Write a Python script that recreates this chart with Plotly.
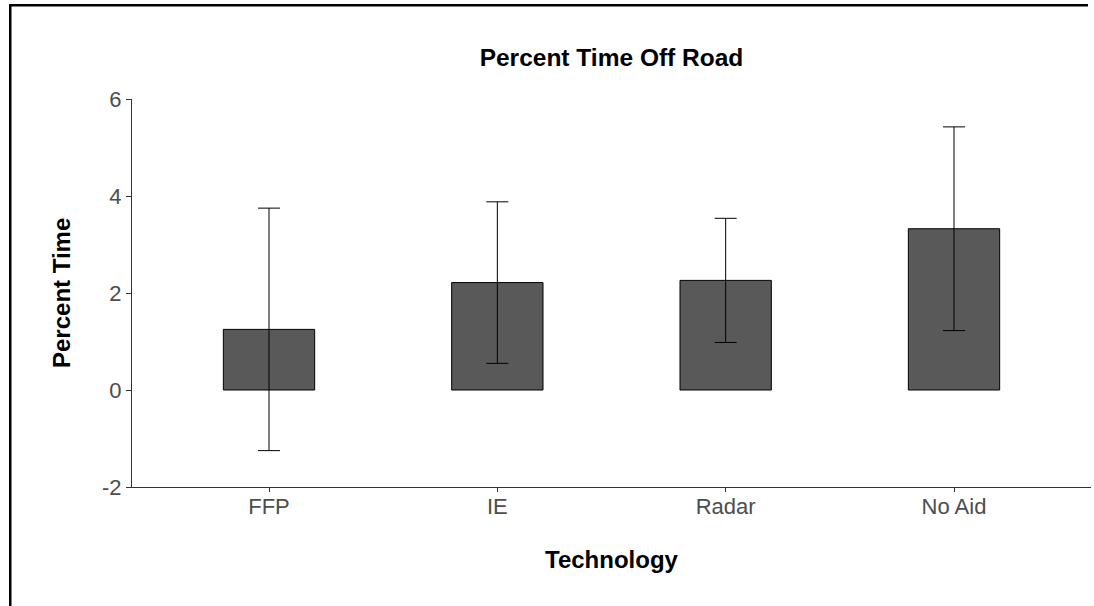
import plotly.graph_objects as go

categories = ["FFP", "IE", "Radar", "No Aid"]
mean_pct = [1.25, 2.215, 2.26, 3.325]
err_pct = [2.50, 1.665, 1.28, 2.10]
y_ticks = [-2, 0, 2, 4, 6]
y_tick_text = ["-2", "0", "2", "4", "6"]

W, H = 1094, 606
L, R, T, B = 132, 3, 99, 119
pw, ph = W - L - R, H - T - B

fig = go.Figure()
fig.add_trace(go.Bar(
    x=categories, y=mean_pct, width=0.4,
    marker=dict(color="#595959", line=dict(color="black", width=1)),
    error_y=dict(type="data", array=err_pct, visible=True,
                 color="black", thickness=1, width=11),
    showlegend=False,
))

font = "Liberation Sans, Arial, sans-serif"
fig.update_layout(
    width=W, height=H,
    margin=dict(l=L, r=R, t=T, b=B),
    paper_bgcolor="white", plot_bgcolor="white",
    font=dict(family=font, color="#4d4d4d"),
    title=dict(text="<b>Percent Time Off Road</b>", x=(L + pw / 2) / W, xanchor="center",
               y=1 - 57 / H, yanchor="middle", yref="container",
               font=dict(size=24.5, color="black", family=font)),
    xaxis=dict(range=[-0.6, 3.6], showline=True, linecolor="#333333", linewidth=1.3,
               ticks="outside", ticklen=4, tickcolor="#333333", showgrid=False,
               ticklabelstandoff=-5,
               tickfont=dict(size=22, color="#4d4d4d"), zeroline=False),
    yaxis=dict(range=[-2, 6], tickvals=y_ticks, ticktext=y_tick_text, showline=True,
               linecolor="#333333", linewidth=1.3, ticks="outside", ticklen=5,
               tickcolor="#333333", showgrid=False, zeroline=False,
               ticklabelstandoff=0,
               tickfont=dict(size=22, color="#4d4d4d")),
    bargap=0.6,
)

# axis titles
fig.add_annotation(text="<b>Technology</b>", xref="paper", yref="paper",
                   x=0.5, y=-(559 - (T + ph)) / ph, xanchor="center", yanchor="middle",
                   showarrow=False, font=dict(size=24, color="black", family=font))
fig.add_annotation(text="<b>Percent Time</b>", xref="paper", yref="paper",
                   x=(61 - L) / pw, y=0.5, xanchor="center", yanchor="middle", textangle=-90,
                   showarrow=False, font=dict(size=24, color="black", family=font))

# outer border: top and left edges as thin filled bands
def px_x(p):
    return (p - L) / pw

def px_y(p):
    return (T + ph - p) / ph

fig.add_shape(type="rect", xref="paper", yref="paper",
              x0=px_x(9), x1=px_x(W - 6), y0=px_y(6.5), y1=px_y(4),
              line=dict(width=0), fillcolor="black", layer="above")
fig.add_shape(type="rect", xref="paper", yref="paper",
              x0=px_x(9), x1=px_x(11.5), y0=px_y(H), y1=px_y(4),
              line=dict(width=0), fillcolor="black", layer="above")

fig.write_html("out.html")
